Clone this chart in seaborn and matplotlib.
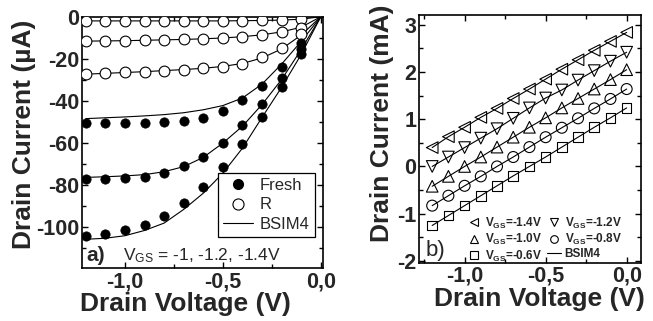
import numpy as np
import pandas as pd
import seaborn as sns
import matplotlib
matplotlib.use("Agg")
import matplotlib.pyplot as plt
from matplotlib.lines import Line2D
from matplotlib.ticker import MultipleLocator

# ---------------- data: panel a (uA) ----------------
vd_meas = [-1.2, -1.1, -1.0, -0.9, -0.8, -0.7, -0.6, -0.5, -0.4, -0.3, -0.2, -0.1]
vd_model = [-1.2, -1.1, -1.0, -0.9, -0.8, -0.7, -0.6, -0.5, -0.4, -0.3, -0.2, -0.1, 0.0]

fresh_vg10 = [-50.5, -50.5, -50.5, -50.4, -50.2, -49.7, -48.1, -44.8, -39.5, -32.7, -23.7, -12.4]
fresh_vg12 = [-77.0, -77.0, -76.7, -75.9, -74.1, -71.1, -66.4, -60.0, -51.4, -41.3, -29.2, -15.2]
fresh_vg14 = [-104.0, -103.3, -101.4, -98.9, -94.6, -88.4, -81.0, -71.4, -60.3, -47.8, -33.3, -17.6]

r_vg10 = [-2.0, -2.0, -2.0, -2.0, -2.0, -2.0, -2.0, -2.0, -1.9, -1.8, -1.6, -1.2]
r_vg12 = [-11.6, -11.6, -11.4, -11.3, -11.1, -10.8, -10.5, -10.2, -9.5, -8.7, -7.3, -5.2]
r_vg14 = [-27.3, -26.7, -26.4, -26.1, -25.6, -25.1, -24.5, -23.7, -22.4, -19.2, -14.9, -8.4]

bsim_fresh10 = [-48.4, -48.0, -47.6, -47.1, -46.5, -45.6, -44.2, -42.2, -38.6, -32.0, -22.5, -11.7, 0.0]
bsim_fresh12 = [-76.3, -76.0, -75.6, -75.0, -73.6, -71.2, -66.8, -60.0, -52.0, -41.7, -29.8, -15.6, 0.0]
bsim_fresh14 = [-105.7, -105.2, -104.0, -101.5, -98.0, -91.5, -83.8, -74.3, -62.4, -47.8, -33.5, -17.9, 0.0]
bsim_r10 = [-2.0, -2.0, -2.0, -2.0, -2.0, -2.0, -2.0, -2.0, -1.9, -1.8, -1.6, -1.2, 0.0]
bsim_r12 = [-11.6, -11.5, -11.4, -11.2, -11.0, -10.8, -10.5, -10.1, -9.5, -8.6, -7.2, -5.0, 0.0]
bsim_r14 = [-27.3, -26.9, -26.5, -26.1, -25.6, -25.1, -24.5, -23.6, -22.2, -19.6, -15.3, -8.7, 0.0]

# ---------------- data: panel b (mA) ----------------
vd_b = [-1.2, -1.1, -1.0, -0.9, -0.8, -0.7, -0.6, -0.5, -0.4, -0.3, -0.2, -0.1, 0.0]
id_vg14 = [0.40, 0.63, 0.83, 1.04, 1.23, 1.44, 1.64, 1.85, 2.06, 2.26, 2.46, 2.65, 2.84]
id_vg12 = [0.00, 0.20, 0.40, 0.60, 0.80, 1.02, 1.24, 1.45, 1.62, 1.83, 2.03, 2.23, 2.42]
id_vg10 = [-0.42, -0.21, 0.00, 0.20, 0.41, 0.62, 0.83, 1.03, 1.24, 1.44, 1.64, 1.84, 2.05]
id_vg08 = [-0.83, -0.62, -0.41, -0.21, 0.00, 0.20, 0.41, 0.62, 0.82, 1.02, 1.23, 1.43, 1.64]
id_vg06 = [-1.25, -1.04, -0.83, -0.62, -0.41, -0.20, 0.00, 0.20, 0.41, 0.62, 0.83, 1.03, 1.24]
labels_b = ["-1.4V", "-1.2V", "-1.0V", "-0.8V", "-0.6V"]

xtick_vals = [-1.0, -0.5, 0.0]
xtick_labels = ["-1,0", "-0,5", "0,0"]
ytick_a = [0, -20, -40, -60, -80, -100]
ytick_b = [3, 2, 1, 0, -1, -2]

# ---------------- style ----------------
sns.set_style("ticks")
plt.rcParams["font.family"] = ["Liberation Sans", "DejaVu Sans"]
plt.rcParams["mathtext.fontset"] = "custom"
plt.rcParams["mathtext.rm"] = "Liberation Sans"
plt.rcParams["mathtext.bf"] = "Liberation Sans:bold"
plt.rcParams["mathtext.it"] = "Liberation Sans:italic"

fig = plt.figure(figsize=(6.53, 3.21), dpi=100)
axa = fig.add_axes([0.126, 0.164, 0.368, 0.784])
axb = fig.add_axes([0.642, 0.180, 0.340, 0.772])

LW = 0.8
EW = 0.8


def style_axes(ax, ymaj, ymin):
    for s in ax.spines.values():
        s.set_linewidth(1.2)
        s.set_color("black")
        s.set_visible(True)
    ax.xaxis.set_minor_locator(MultipleLocator(0.25))
    ax.yaxis.set_minor_locator(MultipleLocator(ymin))
    ax.tick_params(which="both", direction="in", top=True, right=True,
                   color="black", width=1.0)
    ax.tick_params(which="major", length=4.5, pad=2)
    ax.tick_params(which="minor", length=3)
    ax.set_xticks(xtick_vals)
    ax.set_xticklabels(xtick_labels, fontsize=15.5, fontweight="bold")
    for t in ax.get_yticklabels():
        t.set_fontsize(15.5)
        t.set_fontweight("bold")
    ax.set_xlabel("Drain Voltage (V)", fontsize=19, fontweight="bold", labelpad=0)


# ---------------- panel a ----------------
for arr in [bsim_fresh10, bsim_fresh12, bsim_fresh14, bsim_r10, bsim_r12, bsim_r14]:
    sns.lineplot(x=vd_model, y=arr, ax=axa, color="black", lw=LW, zorder=2)
for arr in [r_vg10, r_vg12, r_vg14]:
    sns.scatterplot(x=vd_meas, y=arr, ax=axa, marker="o", s=60, facecolor="white",
                    edgecolor="black", linewidth=EW, zorder=3)
for arr in [fresh_vg10, fresh_vg12, fresh_vg14]:
    sns.scatterplot(x=vd_meas, y=arr, ax=axa, marker="o", s=45, color="black",
                    edgecolor="black", linewidth=0.5, zorder=4)

axa.set_xlim(-1.218, 0.009)
axa.set_ylim(-119.5, 0)
axa.set_yticks(ytick_a)
axa.set_yticklabels([str(v) for v in ytick_a])
style_axes(axa, 20, 10)
axa.set_ylabel("Drain Current (\u00b5A)", fontsize=19, fontweight="bold", labelpad=0)
axa.xaxis.label.set_x(0.43)
axa.yaxis.label.set_y(0.534)

ha = [Line2D([], [], ls="none", marker="o", ms=7, mfc="black", mec="black"),
      Line2D([], [], ls="none", marker="o", ms=8, mfc="white", mec="black", mew=EW),
      Line2D([], [], color="black", lw=LW)]
lega = axa.legend(ha, ["Fresh", "R", "BSIM4"], loc="lower right",
                  bbox_to_anchor=(0.968, 0.126), fontsize=12, frameon=True,
                  fancybox=False, framealpha=1, edgecolor="black",
                  handlelength=1.8, handletextpad=0.4, borderpad=0.3,
                  labelspacing=0.25, borderaxespad=0)
lega.get_frame().set_linewidth(0.9)

axa.text(0.015, 0.052, "a)", transform=axa.transAxes, fontsize=15,
         fontweight="bold", va="center", ha="left")
axa.text(0.17, 0.052, r"V$_{\mathrm{GS}}$ = -1, -1.2, -1.4V", transform=axa.transAxes,
         fontsize=12.5, va="center", ha="left")

# ---------------- panel b ----------------
series_b = [id_vg14, id_vg12, id_vg10, id_vg08, id_vg06]
markers_b = ["<", "v", "^", "o", "s"]
sizes_b = [70, 70, 70, 62, 48]
for arr, m, sz in zip(series_b, markers_b, sizes_b):
    sns.lineplot(x=vd_b, y=arr, ax=axb, color="black", lw=LW, zorder=2)
    sns.scatterplot(x=vd_b, y=arr, ax=axb, marker=m, s=sz, facecolor="none",
                    edgecolor="black", linewidth=EW, zorder=3)

axb.set_xlim(-1.28, 0.09)
axb.set_ylim(-2.05, 3.2)
axb.set_yticks(ytick_b)
axb.set_yticklabels([str(v) for v in ytick_b])
style_axes(axb, 1, 0.5)
axb.set_ylabel("Drain Current (mA)", fontsize=19, fontweight="bold", labelpad=2)
axb.xaxis.label.set_x(0.54)
axb.yaxis.label.set_y(0.565)

hb = []
lb = []
for m, lab in zip(markers_b, labels_b):
    hb.append(Line2D([], [], ls="none", marker=m, ms=5.5, mfc="none", mec="black", mew=EW))
    lb.append(r"V$_{\mathbf{GS}}$=" + lab)
hb.append(Line2D([], [], color="black", lw=LW))
lb.append("BSIM4")
order = [0, 2, 4, 1, 3, 5]
legb = axb.legend([hb[i] for i in order], [lb[i] for i in order], ncol=2,
                  loc="lower left", bbox_to_anchor=(0.185, -0.03), frameon=False,
                  prop={"size": 8.5, "weight": "bold"}, handlelength=1.2,
                  handletextpad=0.3, columnspacing=0.4, labelspacing=0.12,
                  borderaxespad=0.2)

axb.text(0.03, 0.05, "b)", transform=axb.transAxes, fontsize=16,
         va="center", ha="left")

fig.savefig("out.png", dpi=100)
